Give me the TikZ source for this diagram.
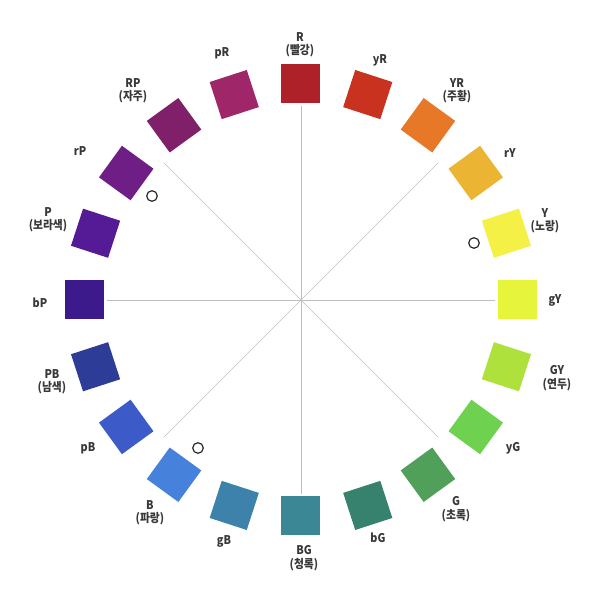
\documentclass[tikz,border=0pt]{standalone}
\usepackage{fontspec}
\setmainfont{Noto Sans CJK KR}[FakeStretch=0.9]
\begin{document}
\begin{tikzpicture}[x=1pt,y=1pt,
  sq/.style={minimum size=39pt,inner sep=0pt,draw=none},
  lab/.style={font=\fontsize{12}{13.5}\selectfont\bfseries,text=black!78,align=center,inner sep=0pt},
  spoke/.style={draw=black!25,line width=0.6pt},
  ring/.style={draw=black!85,line width=1.2pt}]
\useasboundingbox[fill=white] (-301,-296) rectangle (299,300);
\definecolor{cR}{HTML}{AE2128}
\definecolor{cyR}{HTML}{C8321F}
\definecolor{cYR}{HTML}{E67828}
\definecolor{crY}{HTML}{EBB432}
\definecolor{cY}{HTML}{F5F046}
\definecolor{cgY}{HTML}{E6F53C}
\definecolor{cGY}{HTML}{AFE13C}
\definecolor{cyG}{HTML}{6ED250}
\definecolor{cG}{HTML}{50A05A}
\definecolor{cbG}{HTML}{37826E}
\definecolor{cBG}{HTML}{3C8796}
\definecolor{cgB}{HTML}{3C82AA}
\definecolor{cB}{HTML}{4682DC}
\definecolor{cpB}{HTML}{3C5AC8}
\definecolor{cPB}{HTML}{2D3C96}
\definecolor{cbP}{HTML}{3C1A8C}
\definecolor{cP}{HTML}{551A96}
\definecolor{crP}{HTML}{6E1E85}
\definecolor{cRP}{HTML}{80206A}
\definecolor{cpR}{HTML}{A0266A}
\coordinate (c) at (0,0);
\foreach \a in {0,45,...,315} {\coordinate (s\a) at (\a:194);}
\foreach \a in {0,45,...,315} {\draw[spoke] (c) -- (s\a);}
% squares
\node[sq,fill=cR,rotate=0]   (R)  at (90:216) {};
\node[sq,fill=cyR,rotate=-18](yR) at (72:216) {};
\node[sq,fill=cYR,rotate=-36](YR) at (54:216) {};
\node[sq,fill=crY,rotate=-54](rY) at (36:216) {};
\node[sq,fill=cY,rotate=-72] (Y)  at (18:216) {};
\node[sq,fill=cgY,rotate=0]  (gY) at (0:216) {};
\node[sq,fill=cGY,rotate=-108](GY) at (-18:216) {};
\node[sq,fill=cyG,rotate=-126](yG) at (-36:216) {};
\node[sq,fill=cG,rotate=-144] (G)  at (-54:216) {};
\node[sq,fill=cbG,rotate=-162](bG) at (-72:216) {};
\node[sq,fill=cBG,rotate=0]   (BG) at (-90:216) {};
\node[sq,fill=cgB,rotate=-198](gB) at (-108:216) {};
\node[sq,fill=cB,rotate=-216] (B)  at (-126:216) {};
\node[sq,fill=cpB,rotate=-234](pB) at (-144:216) {};
\node[sq,fill=cPB,rotate=-252](PB) at (-162:216) {};
\node[sq,fill=cbP,rotate=0]   (bP) at (180:216) {};
\node[sq,fill=cP,rotate=72]   (P)  at (162:216) {};
\node[sq,fill=crP,rotate=54]  (rP) at (144:216) {};
\node[sq,fill=cRP,rotate=36]  (RP) at (126:216) {};
\node[sq,fill=cpR,rotate=18]  (pR) at (108:216) {};
% labels
\node[lab] (lR)  at (-1,255)   {R\\(빨강)};
\node[lab] (lpR) at (-79,247)  {pR};
\node[lab] (lyR) at (79,240)   {yR};
\node[lab] (lYR) at (156,209)  {YR\\(주황)};
\node[lab] (lrY) at (209,147)  {rY};
\node[lab] (lY)  at (244,79)   {Y\\(노랑)};
\node[lab] (lgY) at (254,0)    {gY};
\node[lab] (lGY) at (256,-78)  {GY\\(연두)};
\node[lab] (lyG) at (212,-148) {yG};
\node[lab] (lG)  at (155,-209) {G\\(초록)};
\node[lab] (lbG) at (77,-238)  {bG};
\node[lab] (lBG) at (3,-258)   {BG\\(청록)};
\node[lab] (lgB) at (-77,-241) {gB};
\node[lab] (lB)  at (-151,-213){B\\(파랑)};
\node[lab] (lpB) at (-213,-148){pB};
\node[lab] (lPB) at (-249,-82) {PB\\(남색)};
\node[lab] (lbP) at (-261,-3)  {bP};
\node[lab] (lP)  at (-253,80)  {P\\(보라색)};
\node[lab] (lrP) at (-221,149) {rP};
\node[lab] (lRP) at (-168,209) {RP\\(자주)};
% circle marks
\draw[ring] (-149,104) circle (5.3);
\draw[ring] (173,57) circle (5.3);
\draw[ring] (-103,-148) circle (5.3);
\end{tikzpicture}
\end{document}
